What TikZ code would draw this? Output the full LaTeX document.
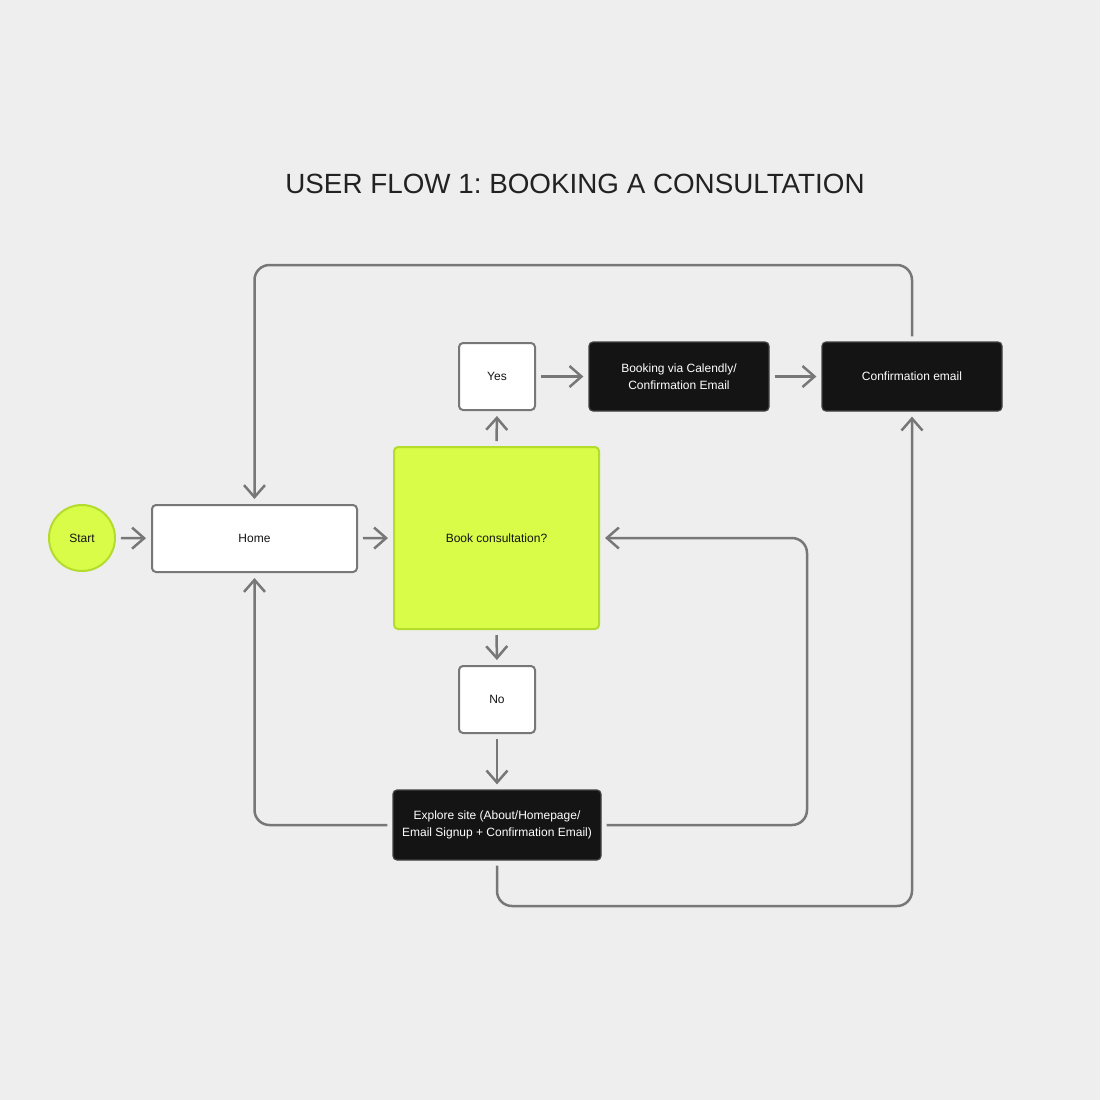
\documentclass[tikz,border=0pt]{standalone}
\usepackage{fontspec}
\setmainfont{Liberation Sans}
\usetikzlibrary{arrows.meta}
\frenchspacing
\definecolor{bg}{HTML}{EEEEEE}
\definecolor{lime}{HTML}{D9FC48}
\definecolor{limeedge}{HTML}{B3DC2C}
\definecolor{ink}{HTML}{141414}
\definecolor{wire}{HTML}{777777}
\definecolor{titlec}{HTML}{222222}
\tikzset{
  x=0.5pt, y=-0.5pt,
  base/.style={rectangle, rounded corners=2pt, line width=1pt, align=center,
    font=\fontsize{6pt}{8.6pt}\selectfont, inner sep=0pt},
  whitebox/.style={base, draw=wire, fill=white, text=ink},
  darkbox/.style={base, draw=ink!80!white, fill=ink, text=white, line width=0.6pt},
  limebox/.style={base, draw=limeedge, fill=lime, text=ink},
  conn/.style={draw=wire, line width=1.25pt, rounded corners=7.5pt,
    shorten >=2.5pt, shorten <=2.5pt,
    -{Straight Barb[length=6pt,width=10.5pt,line width=1.25pt]}},
}
\begin{document}
\begin{tikzpicture}
\fill[bg] (0,0) rectangle (1100,1100);
\useasboundingbox (0,0) rectangle (1100,1100);

\node[font=\fontsize{13.9pt}{16pt}\selectfont, text=titlec] (title) at (575,184) {USER FLOW 1: BOOKING A CONSULTATION};

\node[circle, draw=limeedge, fill=lime, line width=1pt, minimum size=33pt, inner sep=0pt,
      font=\fontsize{6pt}{8.6pt}\selectfont, text=ink] (start) at (82,538) {Start};
\node[whitebox, minimum width=102.5pt, minimum height=33.5pt] (home) at (254.5,538.5) {Home};
\node[limebox, minimum width=102.5pt, minimum height=91pt] (book) at (496.5,538) {Book consultation?};
\node[whitebox, minimum width=38pt, minimum height=33.5pt] (yes) at (497,376.5) {Yes};
\node[darkbox, minimum width=90pt, minimum height=34.5pt] (cal) at (679,376.5) {Booking via Calendly/\\Confirmation Email};
\node[darkbox, minimum width=90pt, minimum height=34.5pt] (conf) at (912,376.5) {Confirmation email};
\node[whitebox, minimum width=38pt, minimum height=33.5pt] (no) at (497,699.5) {No};
\node[darkbox, minimum width=104pt, minimum height=35pt] (explore) at (497,825) {Explore site (About/Homepage/\\Email Signup + Confirmation Email)};

\coordinate (top) at (583,265);
\coordinate (rgt) at (807,700);
\coordinate (bot) at (700,906);

\draw[conn] (start) -- (home);
\draw[conn] (home) -- (book.west);
\draw[conn] (book.north) -- (yes.south);
\draw[conn] (yes) -- (cal);
\draw[conn] (cal) -- (conf);
\draw[conn] (conf.north) |- (top) -| (home.north);
\draw[conn] (book.south) -- (no.north);
\draw[conn] (no.south) -- (explore.north);
\draw[conn] (explore.west) -| (home.south);
\draw[conn] (explore.east) -| (rgt) |- (book.east);
\draw[conn] (explore.south) |- (bot) -| (conf.south);
\end{tikzpicture}
\end{document}
